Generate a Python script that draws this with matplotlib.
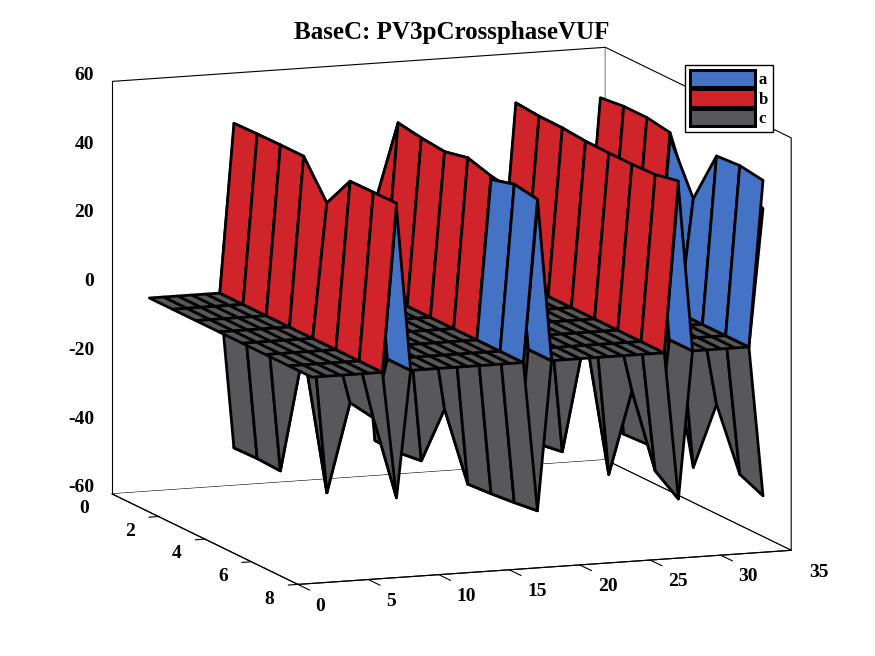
import numpy as np
import matplotlib
matplotlib.use('Agg')
import matplotlib.pyplot as plt
from matplotlib.patches import Patch
from mpl_toolkits.mplot3d import proj3d
from mpl_toolkits.mplot3d.art3d import Poly3DCollection

plt.rcParams['font.family'] = ['Liberation Serif', 'DejaVu Serif']
plt.rcParams['font.weight'] = 'bold'
plt.rcParams['axes.unicode_minus'] = False

# grid: 33 steps along y, 8 buses along x; only a few steps are non-zero
n_rows = 33
n_cols = 8
peak_rows = [7, 17, 27, 33]

a_peaks = [
    [47.6, 47.9, 48.1, 48.3, 37.7, 47.2, 47.6, 47.4],
    [22.0, 48.1, 47.1, 46.4, 47.9, 46.4, 48.3, 47.2],
    [47.9, 47.3, 47.2, 46.6, 46.5, 46.5, 46.8, 48.2],
    [47.7, 48.5, 48.5, 47.4, 33.0, 48.7, 49.2, 48.2],
]
b_peaks = [
    [49.1, 49.3, 49.4, 49.4, 39.1, 48.7, 48.8, 48.9],
    [23.0, 49.7, 48.6, 47.9, 49.4, 47.4, 46.2, 45.2],
    [49.4, 48.8, 48.7, 48.1, 48.0, 48.0, 48.3, 49.7],
    [49.2, 50.0, 50.0, 48.9, 30.0, 44.0, 42.0, 40.0],
]
c_peaks = [
    [-45.3, -45.1, -45.4, -7.0, -45.2, -15.7, -16.8, -36.8],
    [-46.0, -46.2, -45.3, -27.0, -45.5, -45.0, -44.3, -43.4],
    [-46.0, -46.6, -45.5, -8.0, -45.5, -17.9, -37.9, -42.8],
    [-45.0, -45.4, -45.0, -10.0, -45.2, -23.6, -40.6, -43.6],
]

series_names = ['a', 'b', 'c']
series_colors = ['#4472C4', '#D0232A', '#58585A']

x_ticks = [0, 2, 4, 6, 8]
y_ticks = [0, 5, 10, 15, 20, 25, 30, 35]
z_ticks = [-60, -40, -20, 0, 20, 40, 60]


def build_grid(peaks):
    z = np.zeros((n_rows, n_cols))
    for r, vals in zip(peak_rows, peaks):
        z[r - 1] = vals
    return z


grids = [build_grid(p) for p in (a_peaks, b_peaks, c_peaks)]
za, zb = grids[0], grids[1]
xs = np.arange(1, n_cols + 1)
ys = np.arange(1, n_rows + 1)

# all faces in one collection so they are depth sorted together;
# back faces of b that sit right over a lower a ridge go underneath
# (MATLAB's z-buffer shows the a face there)
polys, face_colors = [], []
under_polys = []
for k, (z, color) in enumerate(zip(grids, series_colors)):
    for i in range(n_rows - 1):
        for j in range(n_cols - 1):
            corners = [z[i, j], z[i, j + 1], z[i + 1, j + 1], z[i + 1, j]]
            # flat zero cells coincide for all surfaces; keep only the last one
            if k < 2 and not any(corners):
                continue
            quad = [(xs[j], ys[i], z[i, j]),
                    (xs[j + 1], ys[i], z[i, j + 1]),
                    (xs[j + 1], ys[i + 1], z[i + 1, j + 1]),
                    (xs[j], ys[i + 1], z[i + 1, j])]
            if k == 1 and np.all((za[i] > 0) & (za[i] < zb[i])):
                under_polys.append(quad)
                continue
            polys.append(quad)
            face_colors.append(color)

fig = plt.figure(figsize=(8.75, 6.56), dpi=100)
ax = fig.add_axes([0.006, 0.005, 1.0, 1.0], projection='3d', proj_type='ortho',
                  computed_zorder=False)

under = Poly3DCollection(under_polys, facecolors=series_colors[1],
                         edgecolors='k', linewidths=2.0, zorder=1)
ax.add_collection3d(under)
surf = Poly3DCollection(polys, facecolors=face_colors, edgecolors='k',
                        linewidths=2.0, zorder=2)
ax.add_collection3d(surf)

ax.set_xlim(0, 8)
ax.set_ylim(0, 35)
ax.set_zlim(-60, 60)
# ticks and their labels are drawn by hand below, the MATLAB way
ax.set_xticks([])
ax.set_yticks([])
ax.set_zticks([])
ax.set_box_aspect((1, 1, 0.796), zoom=1.266)
ax.view_init(elev=10.57, azim=-20.64)
ax.grid(False)
ax.zaxis.set_ticks_position('lower')

for axis in (ax.xaxis, ax.yaxis, ax.zaxis):
    axis.set_pane_color((1, 1, 1, 1))
    axis.pane.set_edgecolor('k')
    axis.pane.set_linewidth(0.8)
    axis.line.set_color('k')
    axis.line.set_linewidth(0.8)

M = ax.get_proj()


def tick_label(x, y, z, s, ha):
    # project the 3D anchor once and keep the label as plain 2D text
    px, py, _ = proj3d.proj_transform(x, y, z, M)
    ax.text2D(px, py, s, transform=ax.transData, fontsize=14,
              fontweight='bold', ha=ha, va='center')


tick_kw = dict(color='k', linewidth=0.8)
for v in x_ticks:
    ax.plot([v, v], [0, -0.67], [-60, -60], **tick_kw)
    tick_label(v, -2.0, -63.7, str(v), 'center')
for v in y_ticks:
    ax.plot([8, 8.5], [v, v], [-60, -60], **tick_kw)
    tick_label(8.77, v, -63.8, str(v), 'left')
for v in z_ticks:
    ax.plot([0, -0.46], [0, 0], [v, v], **tick_kw)
    tick_label(0, -1.28, v + 2.1, str(v), 'right')

fig.text(0.516, 1 - 33 / 656, 'BaseC: PV3pCrossphaseVUF', fontsize=18,
         fontweight='bold', ha='center', va='center')

handles = [Patch(facecolor=c, edgecolor='k', linewidth=2.2) for c in series_colors]
fig.legend(handles, series_names, loc='upper left',
           bbox_to_anchor=(685 / 875, 1 - 65 / 656), borderaxespad=0,
           fontsize=12, handlelength=3.9, handleheight=1.2, labelspacing=0.08,
           handletextpad=0.2, borderpad=0.3, fancybox=False, edgecolor='k',
           framealpha=1)

fig.savefig('out.png', dpi=100)
